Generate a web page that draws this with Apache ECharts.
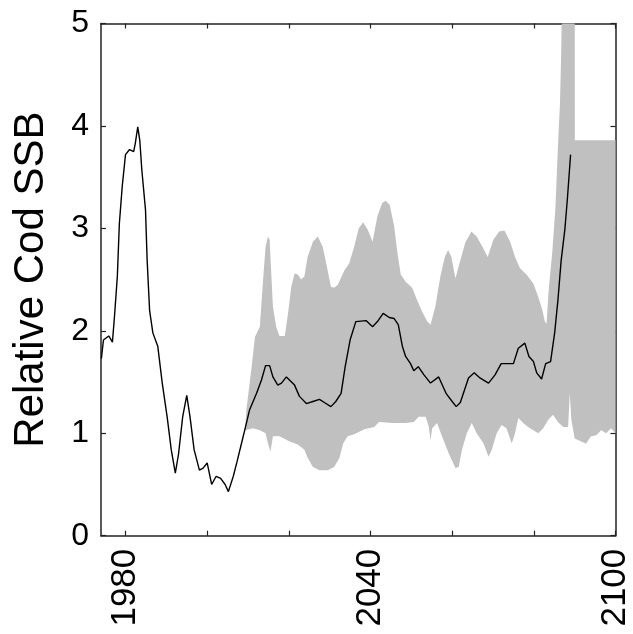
<!DOCTYPE html>
<html>
<head>
<meta charset="utf-8">
<script src="https://cdn.jsdelivr.net/npm/echarts@6/dist/echarts.min.js"></script>
<style>html,body{margin:0;padding:0;background:#fff;}#chart{width:633px;height:634px;}</style>
</head>
<body>
<div id="chart"></div>
<script>
// SSB trajectory (historic + median projection)
const lineYears = [1974.1,1974.6,1975.9,1976.8,1977.3,1978.0,1978.5,1979.2,1980.0,1981.0,1982.0,1982.4,1983.0,1983.5,1984.0,1984.9,1985.3,1985.9,1986.7,1987.9,1989.0,1990.2,1991.2,1992.2,1993.0,1994.0,1995.0,1995.8,1996.8,1998.1,1999.0,2000.0,2001.1,2002.2,2003.3,2004.4,2005.2,2006.4,2007.3,2008.4,2009.2,2010.4,2012.1,2013.3,2014.3,2015.3,2016.1,2017.3,2018.2,2019.4,2021.4,2022.6,2024.3,2025.9,2027.5,2028.7,2030.3,2031.5,2032.8,2033.8,2035.0,2036.4,2038.9,2040.5,2041.7,2043.1,2044.6,2045.8,2046.8,2047.8,2048.6,2049.8,2050.6,2051.7,2053.1,2054.7,2056.7,2058.5,2060.0,2061.0,2062.0,2063.0,2064.0,2065.4,2066.8,2068.9,2070.5,2072.0,2075.0,2076.2,2077.8,2078.8,2079.9,2080.7,2081.9,2082.9,2084.1,2085.1,2085.9,2086.7,2087.6,2088.2,2089.0];
const lineValues = [1.73,1.91,1.95,1.89,2.14,2.53,3.05,3.41,3.72,3.77,3.75,3.83,3.99,3.86,3.57,3.18,2.69,2.20,1.98,1.85,1.49,1.16,0.84,0.61,0.80,1.16,1.37,1.16,0.84,0.64,0.66,0.71,0.50,0.58,0.56,0.50,0.43,0.58,0.72,0.90,1.03,1.23,1.39,1.52,1.66,1.66,1.55,1.47,1.49,1.55,1.47,1.36,1.29,1.31,1.33,1.30,1.26,1.31,1.39,1.65,1.91,2.09,2.10,2.04,2.09,2.17,2.13,2.12,2.06,1.85,1.75,1.68,1.61,1.65,1.57,1.49,1.55,1.39,1.31,1.26,1.30,1.42,1.54,1.59,1.54,1.49,1.57,1.68,1.68,1.83,1.88,1.75,1.70,1.59,1.53,1.68,1.70,1.98,2.30,2.69,2.99,3.28,3.72];

// Projection envelope: upper bound
const upperYears = [2009.3,2009.6,2010.9,2011.7,2012.9,2013.7,2014.3,2014.9,2015.3,2015.7,2016.1,2016.9,2017.7,2019.0,2019.8,2020.6,2021.4,2022.2,2023.0,2023.8,2024.6,2025.9,2027.1,2028.3,2029.3,2030.3,2031.1,2032.0,2033.6,2034.8,2036.0,2037.1,2038.2,2039.3,2040.5,2041.7,2042.9,2043.7,2044.7,2045.8,2046.6,2047.4,2048.6,2050.2,2051.4,2052.6,2053.9,2054.7,2055.9,2057.1,2058.2,2059.0,2059.8,2060.8,2062.0,2063.2,2064.7,2066.0,2067.4,2068.7,2070.1,2071.5,2072.8,2074.2,2075.4,2076.6,2078.2,2079.9,2081.1,2082.1,2082.7,2083.1,2083.7,2084.5,2085.3,2085.9,2086.4,2086.7,2087.2,2090.0,2090.05,2100];
const upperValues = [1.05,1.23,1.65,1.94,2.04,2.50,2.82,2.92,2.89,2.56,2.24,2.04,1.95,1.95,2.17,2.43,2.56,2.55,2.50,2.53,2.72,2.87,2.92,2.82,2.63,2.43,2.42,2.45,2.59,2.66,2.82,3.00,3.06,2.99,2.87,3.12,3.25,3.27,3.23,3.02,2.76,2.55,2.48,2.42,2.30,2.19,2.09,2.06,2.24,2.53,2.72,2.79,2.72,2.51,2.69,2.86,2.97,2.92,2.82,2.72,2.89,2.97,2.98,2.87,2.72,2.61,2.55,2.46,2.33,2.20,2.09,2.07,2.43,2.76,3.21,3.80,4.22,4.71,6.00,6.00,3.86,3.86];

// Projection envelope: lower bound
const lowerYears = [2009.3,2011.2,2012.9,2014.3,2014.9,2015.5,2016.1,2017.7,2020.2,2022.2,2023.8,2024.6,2025.9,2027.5,2029.5,2031.1,2032.4,2033.3,2034.4,2036.0,2038.5,2040.9,2042.1,2045.3,2048.6,2050.6,2051.8,2053.5,2054.3,2054.7,2055.1,2056.3,2057.5,2059.2,2060.8,2061.6,2062.4,2063.6,2064.8,2066.0,2067.7,2068.9,2069.7,2070.9,2072.1,2073.3,2074.6,2075.4,2076.2,2077.4,2078.6,2079.9,2081.1,2082.3,2083.5,2084.7,2085.9,2087.2,2088.4,2088.8,2089.2,2090.0,2091.6,2092.8,2094.0,2095.3,2096.5,2097.7,2098.9,2100];
const lowerValues = [1.03,1.05,1.03,1.00,0.90,0.82,0.97,0.97,0.92,0.89,0.84,0.76,0.67,0.64,0.64,0.67,0.76,0.90,0.97,0.99,1.04,1.06,1.11,1.10,1.10,1.11,1.16,1.16,1.06,0.93,1.05,1.10,0.97,0.80,0.66,0.67,0.84,1.00,1.10,1.00,0.90,0.77,0.84,1.00,1.08,1.05,0.90,1.00,1.15,1.10,1.06,1.03,1.00,1.05,1.13,1.18,1.11,1.06,1.06,1.39,1.13,0.95,0.92,0.90,0.97,0.98,1.03,1.00,1.05,1.00];

const xTicks = [1980,2000,2020,2040,2060,2080,2100];
const xLabels = [1980,2040,2100];

const FONT = 'Liberation Sans, Arial, Helvetica, sans-serif';
const AXIS_COLOR = '#222';

const chart = echarts.init(document.getElementById('chart'), null, {renderer: 'canvas'});

function xAxisCfg(pos, showLabel) {
  return {
    type: 'value', min: 1974, max: 2100, position: pos,
    axisLine: {show: true, onZero: false, lineStyle: {color: AXIS_COLOR, width: 1.5}},
    axisTick: {show: true, inside: true, length: 5, customValues: xTicks, lineStyle: {color: AXIS_COLOR, width: 1.2}},
    axisLabel: {show: showLabel, customValues: xLabels, rotate: 90, fontSize: 35, color: '#000', margin: 13, fontFamily: FONT,
      formatter: function (v) { return String(v); }},
    splitLine: {show: false}
  };
}
function yAxisCfg(pos, showLabel) {
  const c = {
    type: 'value', min: 0, max: 5, interval: 1, position: pos,
    axisLine: {show: true, onZero: false, lineStyle: {color: AXIS_COLOR, width: 1.5}},
    axisTick: {show: true, inside: true, length: 5, lineStyle: {color: AXIS_COLOR, width: 1.2}},
    axisLabel: {show: showLabel, fontSize: 32, color: '#000', margin: 12, fontFamily: FONT},
    splitLine: {show: false}
  };
  if (showLabel) {
    c.name = 'Relative Cod SSB';
    c.nameLocation = 'middle';
    c.nameGap = 49;
    c.nameTextStyle = {fontSize: 42, color: '#000', fontFamily: FONT};
  }
  return c;
}

chart.setOption({
  animation: false,
  backgroundColor: '#fff',
  grid: {left: 101, right: 15.5, top: 23.5, bottom: 98.3, containLabel: false},
  xAxis: [xAxisCfg('bottom', true), xAxisCfg('top', false)],
  yAxis: [yAxisCfg('left', true), yAxisCfg('right', false)],
  series: [
    {
      type: 'custom',
      clip: true,
      data: [[upperYears[0], upperValues[0]]],
      renderItem: function (params, api) {
        const pts = [];
        for (let i = 0; i < upperYears.length; i++) pts.push(api.coord([upperYears[i], upperValues[i]]));
        for (let i = lowerYears.length - 1; i >= 0; i--) pts.push(api.coord([lowerYears[i], lowerValues[i]]));
        return {type: 'polygon', shape: {points: pts}, style: {fill: '#c0c0c0', stroke: null}};
      },
      z: 1
    },
    {
      type: 'line',
      data: lineYears.map((y, i) => [y, lineValues[i]]),
      showSymbol: false,
      lineStyle: {color: '#000', width: 1.4},
      clip: true,
      z: 3
    }
  ]
});
</script>
</body>
</html>
